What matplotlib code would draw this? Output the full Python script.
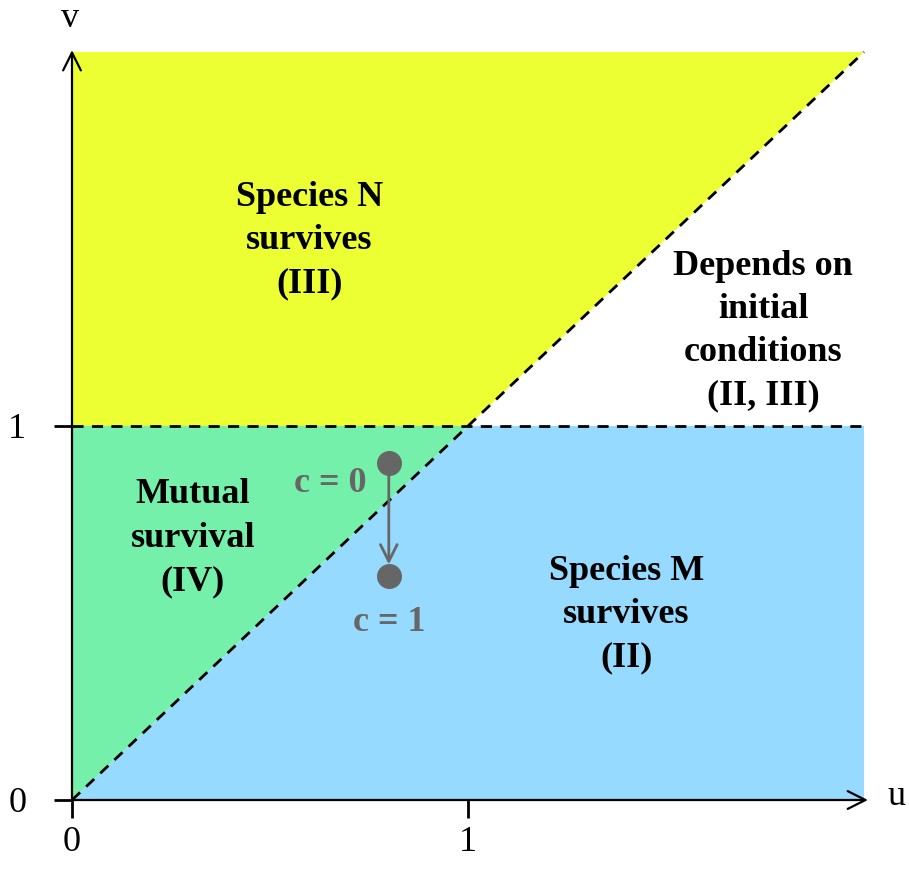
import matplotlib.pyplot as plt

plt.rcParams['font.family'] = ['Liberation Serif', 'DejaVu Serif']

# region polygons in (u, v)
yellow_u = [0, 1, 2, 0]
yellow_v = [1, 1, 2, 2]
green_u = [0, 1, 0]
green_v = [0, 1, 1]
blue_u = [0, 2, 2, 1]
blue_v = [0, 0, 1, 1]

# region labels
labels = ["Species N\nsurvives\n(III)", "Depends on\ninitial\nconditions\n(II, III)",
          "Mutual\nsurvival\n(IV)", "Species M\nsurvives\n(II)"]
label_u = [0.60, 1.745, 0.305, 1.40]
label_v = [1.495, 1.254, 0.70, 0.495]

# parameter path c = 0 -> c = 1
pt_u = [0.8, 0.8]
pt_v = [0.9, 0.6]
pt_text = ["c = 0", "c = 1"]

ticks = [0, 1]
tick_labels = ["0", "1"]

fig = plt.figure(figsize=(9.09, 8.84), dpi=100)
ax = fig.add_axes([72 / 909, 84 / 884, 792 / 909, 748 / 884])
ax.set_xlim(0, 2)
ax.set_ylim(0, 2)

ax.fill(yellow_u, yellow_v, color='#ecff33', lw=0)
ax.fill(green_u, green_v, color='#75f0aa', lw=0)
ax.fill(blue_u, blue_v, color='#97daff', lw=0)

# boundaries
ax.plot([0, 2], [0, 2], color='black', lw=2, ls=(0, (4, 3)), clip_on=False)
ax.plot([0, 2], [1, 1], color='black', lw=2, ls=(0, (4, 3)), clip_on=False)

for s in ax.spines.values():
    s.set_visible(False)

# axes with arrows
ax.annotate('', xy=(2.01, 0), xytext=(0, 0),
            arrowprops=dict(arrowstyle='->', lw=1.6, color='black',
                            mutation_scale=32, shrinkA=0, shrinkB=0),
            annotation_clip=False)
ax.annotate('', xy=(0, 2.005), xytext=(0, 0),
            arrowprops=dict(arrowstyle='->', lw=1.6, color='black',
                            mutation_scale=32, shrinkA=0, shrinkB=0),
            annotation_clip=False)
ax.text(2.083, 0.01, "u", fontsize=26, ha='center', va='center')
ax.text(-0.005, 2.09, "v", fontsize=26, ha='center', va='center')

ax.set_xticks(ticks)
ax.set_xticklabels(tick_labels, fontsize=26)
ax.set_yticks(ticks)
ax.set_yticklabels(tick_labels, fontsize=26)
ax.tick_params(axis='x', direction='out', length=13, width=2, pad=6)
ax.tick_params(axis='y', direction='out', length=13, width=2, pad=20)

for t, u, v in zip(labels, label_u, label_v):
    ax.text(u, v, t, fontsize=26, fontweight='bold', ha='center', va='center',
            linespacing=1.41)

ax.plot(pt_u, pt_v, 'o', color='#666666', ms=17, zorder=5)
ax.annotate('', xy=(pt_u[1], pt_v[1] + 0.03), xytext=(pt_u[0], pt_v[0] - 0.03),
            arrowprops=dict(arrowstyle='->', lw=2, color='#666666',
                            mutation_scale=30, shrinkA=0, shrinkB=0))
ax.text(pt_u[0] - 0.147, pt_v[0] - 0.055, pt_text[0], fontsize=26,
        fontweight='bold', color='#666666', ha='center', va='center')
ax.text(pt_u[1], pt_v[1] - 0.125, pt_text[1], fontsize=26,
        fontweight='bold', color='#666666', ha='center', va='center')

fig.savefig('out.png', dpi=100)
